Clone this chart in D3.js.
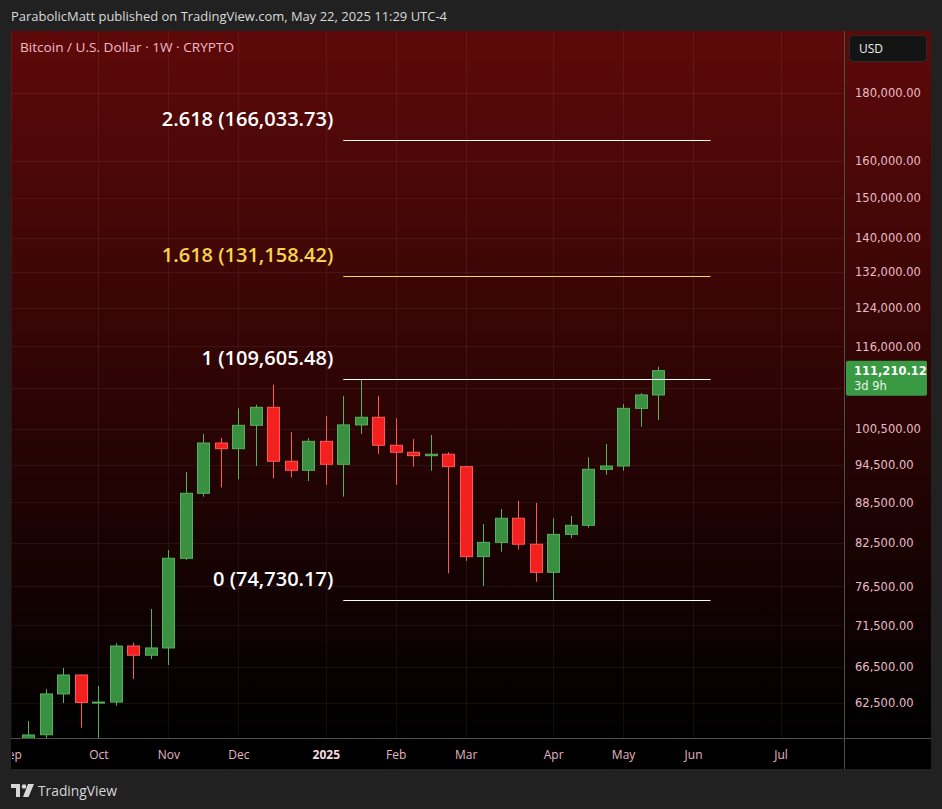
<!DOCTYPE html>
<html>
<head>
<meta charset="utf-8">
<script src="https://cdn.jsdelivr.net/npm/d3@7"></script>
<style>
  body { margin: 0; background: #212121; }
  svg { display: block; }
</style>
</head>
<body>
<div id="chart"></div>
<script>
// weekly BTCUSD candles (week start, monday)
const weeks = ["2024-09-09","2024-09-16","2024-09-23","2024-09-30","2024-10-07","2024-10-14","2024-10-21","2024-10-28",
  "2024-11-04","2024-11-11","2024-11-18","2024-11-25","2024-12-02","2024-12-09","2024-12-16","2024-12-23","2024-12-30",
  "2025-01-06","2025-01-13","2025-01-20","2025-01-27","2025-02-03","2025-02-10","2025-02-17","2025-02-24","2025-03-03",
  "2025-03-10","2025-03-17","2025-03-24","2025-03-31","2025-04-07","2025-04-14","2025-04-21","2025-04-28","2025-05-05",
  "2025-05-12","2025-05-19"]
const opens = [54840,59150,63490,65610,62550,62600,68990,67900,68760,80330,89910,98100,97140,101160,104370,95050,93570,
  98390,94550,101230,102580,97720,96540,95970,96210,94160,80560,82580,86100,82310,78400,83730,85060,93730,94270,104180,106630]
const highs = [60580,64040,66420,65650,64380,69330,69390,73570,81490,93260,99660,98960,104180,104850,108490,99960,98950,
  102810,106450,109605,106450,102400,98790,99470,96540,94300,85250,87490,88720,88410,86100,86440,95700,97940,104960,106950,111980]
const lows = [54600,57500,62500,59880,58800,62200,65160,67460,66760,80100,89390,90830,92120,94270,92280,92430,91850,
  91230,89390,99650,96260,91230,94160,93500,78270,79950,76560,81250,81540,77130,74730,83160,84700,92860,93500,100920,102100]
const closes = [59130,63490,65610,62550,62600,68990,67900,68760,80330,89910,98100,97140,101160,104370,95050,93570,98390,
  94550,101230,102580,97720,96540,95970,96210,94160,80560,82580,86100,82310,78400,83730,85060,93730,94270,104180,106630,111210]

const lastPrice = 111210.12
const lastCountdown = "3d 9h"

// fib extension drawn from 2025-01-13 to 2025-06-09
const fibLevels = ["2.618", "1.618", "1", "0"]
const fibPrices = [166033.73, 131158.42, 109605.48, 74730.17]
const fibStart = "2025-01-13"
const fibEnd = "2025-06-09"

const priceTicks = [180000,160000,150000,140000,132000,124000,116000,108000,100500,94500,88500,82500,76500,71500,66500,62500]
const monthTicks = ["2024-09-02","2024-10-07","2024-11-04","2024-12-02","2025-01-06","2025-02-03","2025-03-03","2025-04-07","2025-05-05","2025-06-02","2025-07-07"]
const monthLabels = ["Sep","Oct","Nov","Dec","2025","Feb","Mar","Apr","May","Jun","Jul"]

const W = 942, H = 809
const PANEL = { LEFT: 11, TOP: 31, RIGHT: 931, BOTTOM: 769 }
const PLOT_RIGHT = 844
const PLOT_BOTTOM = 738

const parse = d3.utcParse("%Y-%m-%d")
const candles = weeks.map((w, i) => ({ date: parse(w), o: opens[i], h: highs[i], l: lows[i], c: closes[i] }))

const svg = d3.select("#chart").append("svg")
  .attr("width", W).attr("height", H)

const defs = svg.append("defs")
const grad = defs.append("linearGradient").attr("id", "bg")
  .attr("gradientUnits", "userSpaceOnUse")
  .attr("x1", 0).attr("y1", PANEL.TOP).attr("x2", 0).attr("y2", PLOT_BOTTOM)
grad.append("stop").attr("offset", 0).attr("stop-color", "#5e0909")
grad.append("stop").attr("offset", 1).attr("stop-color", "#000000")

defs.append("clipPath").attr("id", "plotClip").append("rect")
  .attr("x", PANEL.LEFT).attr("y", PANEL.TOP)
  .attr("width", PLOT_RIGHT - PANEL.LEFT).attr("height", PLOT_BOTTOM - PANEL.TOP)
defs.append("clipPath").attr("id", "timeClip").append("rect")
  .attr("x", PANEL.LEFT + 1).attr("y", PLOT_BOTTOM)
  .attr("width", PLOT_RIGHT - PANEL.LEFT).attr("height", PANEL.BOTTOM - PLOT_BOTTOM)

// header
svg.append("text")
  .attr("x", 11).attr("y", 21)
  .attr("textLength", 436).attr("lengthAdjust", "spacingAndGlyphs")
  .style("font-family", "Open Sans, sans-serif").style("font-size", "13px")
  .attr("fill", "#d9d9d9")
  .text("ParabolicMatt published on TradingView.com, May 22, 2025 11:29 UTC-4")

// panel backgrounds
svg.append("rect")
  .attr("x", PANEL.LEFT).attr("y", PANEL.TOP)
  .attr("width", PANEL.RIGHT - PANEL.LEFT).attr("height", PLOT_BOTTOM - PANEL.TOP)
  .attr("fill", "url(#bg)")
svg.append("rect")
  .attr("x", PANEL.LEFT).attr("y", PLOT_BOTTOM)
  .attr("width", PANEL.RIGHT - PANEL.LEFT).attr("height", PANEL.BOTTOM - PLOT_BOTTOM)
  .attr("fill", "#000")

// scales
const x = d3.scaleUtc()
  .domain([parse("2024-09-02"), parse("2025-07-07")])
  .range([11, 780.5])
const y = d3.scaleLog()
  .domain([62500, 180000])
  .range([703, 93])

const plot = svg.append("g").attr("clip-path", "url(#plotClip)")

// grid
plot.append("g").selectAll("line")
  .data(priceTicks)
  .enter().append("line")
  .attr("x1", PANEL.LEFT).attr("x2", PLOT_RIGHT)
  .attr("y1", d => Math.round(y(d)) + 0.5).attr("y2", d => Math.round(y(d)) + 0.5)
  .attr("stroke", "rgba(255,255,255,0.06)")
plot.append("g").selectAll("line")
  .data(monthTicks.map(parse))
  .enter().append("line")
  .attr("x1", d => Math.round(x(d)) + 0.5).attr("x2", d => Math.round(x(d)) + 0.5)
  .attr("y1", PANEL.TOP).attr("y2", PLOT_BOTTOM)
  .attr("stroke", "rgba(255,255,255,0.06)")

// candles
const upFill = "#389040", upLine = "#58b25c"
const downFill = "#f2201f", downLine = "#ff5858"
const bodyW = 12

const cg = plot.append("g").selectAll("g")
  .data(candles)
  .enter().append("g")

cg.append("line")
  .attr("x1", d => Math.round(x(d.date)) + 0.5)
  .attr("x2", d => Math.round(x(d.date)) + 0.5)
  .attr("y1", d => y(d.h))
  .attr("y2", d => y(d.l))
  .attr("stroke", d => d.c >= d.o ? upLine : downLine)

cg.append("rect")
  .attr("x", d => Math.round(x(d.date)) - bodyW / 2 + 0.5)
  .attr("width", bodyW)
  .attr("y", d => Math.min(y(d.o), y(d.c)))
  .attr("height", d => Math.max(1, Math.abs(y(d.o) - y(d.c))))
  .attr("fill", d => d.c >= d.o ? upFill : downFill)
  .attr("stroke", d => d.c >= d.o ? upLine : downLine)

// fib lines and labels
const fibColors = ["#ffffff", "#f5d44c", "#ffffff", "#ffffff"]
const fg = plot.append("g")
fg.selectAll("line")
  .data(fibPrices)
  .enter().append("line")
  .attr("x1", x(parse(fibStart))).attr("x2", x(parse(fibEnd)))
  .attr("y1", d => Math.round(y(d)) + 0.5).attr("y2", d => Math.round(y(d)) + 0.5)
  .attr("stroke", (d, i) => fibColors[i])
  .attr("stroke-width", 1)
fg.selectAll("text")
  .data(fibPrices)
  .enter().append("text")
  .attr("x", x(parse(fibStart)) - 10)
  .attr("y", d => y(d) - 14)
  .attr("text-anchor", "end")
  .style("font-family", "Open Sans, sans-serif")
  .style("font-size", "20px")
  .style("font-weight", 600)
  .attr("fill", (d, i) => fibColors[i])
  .text((d, i) => fibLevels[i] + " (" + d3.format(",.2f")(d) + ")")

// title
svg.append("text")
  .attr("x", 20).attr("y", 52)
  .attr("textLength", 214).attr("lengthAdjust", "spacingAndGlyphs")
  .style("font-family", "Open Sans, sans-serif").style("font-size", "12.5px")
  .attr("fill", "#f3b9c6")
  .text("Bitcoin / U.S. Dollar \u00b7 1W \u00b7 CRYPTO")

// price axis
const tagY = y(lastPrice)
const yAxis = d3.axisRight(y)
  .tickValues(priceTicks.filter(p => Math.abs(y(p) - (tagY + 8)) > 20))
  .tickFormat(d3.format(",.2f"))
  .tickSize(0).tickPadding(11)
const yAxisGroup = svg.append("g")
  .attr("transform", "translate(" + PLOT_RIGHT + ",0)")
  .call(yAxis)
yAxisGroup.select(".domain").remove()
yAxisGroup.selectAll("text")
  .style("font-family", "DejaVu Sans, sans-serif").style("font-size", "11.5px")
  .attr("fill", "#e9bcc8")

// time axis (clip on an untransformed wrapper)
const xAxis = d3.axisBottom(x)
  .tickValues(monthTicks.map(parse))
  .tickFormat((d, i) => monthLabels[i])
  .tickSize(0).tickPadding(12)
const xAxisGroup = svg.append("g")
  .attr("clip-path", "url(#timeClip)")
  .append("g")
  .attr("transform", "translate(0," + PLOT_BOTTOM + ")")
  .call(xAxis)
xAxisGroup.select(".domain").remove()
xAxisGroup.selectAll("text")
  .style("font-family", "Open Sans, sans-serif").style("font-size", "12px")
  .style("font-weight", (d, i) => monthLabels[i] === "2025" ? 700 : 400)
  .attr("fill", (d, i) => monthLabels[i] === "2025" ? "#f4dce2" : "#e4b6c3")

// separators
svg.append("line")
  .attr("x1", PLOT_RIGHT + 0.5).attr("x2", PLOT_RIGHT + 0.5)
  .attr("y1", PANEL.TOP).attr("y2", PANEL.BOTTOM)
  .attr("stroke", "#4e4e4e")
svg.append("line")
  .attr("x1", PANEL.LEFT).attr("x2", PANEL.RIGHT)
  .attr("y1", PLOT_BOTTOM + 0.5).attr("y2", PLOT_BOTTOM + 0.5)
  .attr("stroke", "#4e4e4e")

// USD box
svg.append("rect")
  .attr("x", 849.5).attr("y", 35.5).attr("width", 77).attr("height", 26).attr("rx", 4)
  .attr("fill", "#141414").attr("stroke", "#2c2c2c")
svg.append("text")
  .attr("x", 859).attr("y", 53)
  .style("font-family", "Open Sans, sans-serif").style("font-size", "12px")
  .attr("fill", "#eeeeee")
  .text("USD")

// last price tag
svg.append("rect")
  .attr("x", 846).attr("y", tagY - 10).attr("width", 81).attr("height", 35).attr("rx", 2)
  .attr("fill", "#3a9a43")
svg.append("text")
  .attr("x", 854).attr("y", tagY + 4)
  .style("font-family", "DejaVu Sans, sans-serif").style("font-size", "11.5px").style("font-weight", 700)
  .attr("fill", "#ffffff")
  .text(d3.format(",.2f")(lastPrice))
svg.append("text")
  .attr("x", 854).attr("y", tagY + 19)
  .style("font-family", "DejaVu Sans, sans-serif").style("font-size", "11.5px")
  .attr("fill", "#e6f4e6")
  .text(lastCountdown)

// footer logo
const logo = svg.append("g").attr("fill", "#d6d6d6")
logo.append("path").attr("d", "M11 784 h9 v13 h-4 v-9 h-5 z")
logo.append("circle").attr("cx", 24).attr("cy", 786.5).attr("r", 2.3)
logo.append("path").attr("d", "M28 784 h6 l-5.5 13 h-5.5 z")
svg.append("text")
  .attr("x", 38).attr("y", 796)
  .attr("textLength", 79).attr("lengthAdjust", "spacingAndGlyphs")
  .style("font-family", "Open Sans, sans-serif").style("font-size", "15px")
  .attr("fill", "#d6d6d6")
  .text("TradingView")
</script>
</body>
</html>
